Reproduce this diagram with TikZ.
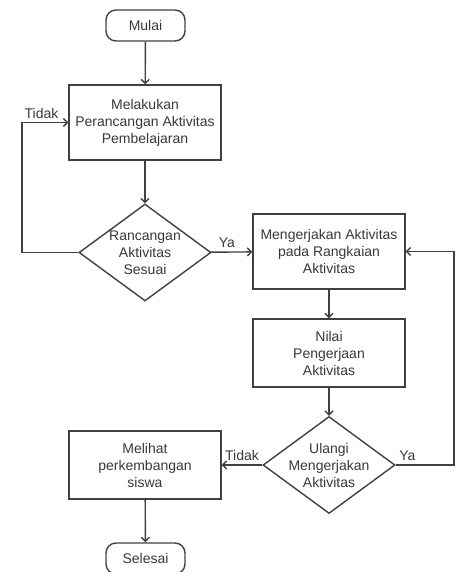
\documentclass[tikz,border=0pt]{standalone}
\usepackage{fontspec}
\setmainfont{Liberation Sans}
\usetikzlibrary{shapes.geometric,arrows.meta}
\definecolor{garis}{HTML}{404040}
\definecolor{teks}{HTML}{383838}

\begin{document}
\begin{tikzpicture}[x=1pt,y=-1pt]
\tikzstyle{every node}=[font=\fontsize{14}{17}\selectfont,text=teks]
\tikzstyle{terminal}=[draw=garis,line width=1.4pt,rounded corners=10pt,minimum width=79pt,minimum height=31pt,inner sep=2pt]
\tikzstyle{proses}=[draw=garis,line width=1.4pt,minimum width=152pt,minimum height=68pt,align=center,inner sep=2pt]
\tikzstyle{keputusan}=[draw=garis,line width=1.4pt,diamond,aspect=1.36,minimum width=132pt,minimum height=97pt,align=center,inner sep=-3pt]
\tikzstyle{panah}=[draw=garis,line width=1.4pt,-{Straight Barb[length=4pt,width=8pt]}]
\useasboundingbox (0,0) rectangle (455,572);

\node[terminal] (mulai) at (145.5,25.5) {Mulai};
\node[proses,minimum height=75pt] (rancang) at (145,122.5) {Melakukan\\Perancangan Aktivitas\\Pembelajaran};
\node[keputusan] (sesuai) at (145,252.5) {Rancangan\\Aktivitas\\Sesuai};
\node[proses,minimum height=75pt] (kerjakan) at (329,251.5) {Mengerjakan Aktivitas\\pada Rangkaian\\Aktivitas};
\node[proses] (nilai) at (329,353) {Nilai\\Pengerjaan\\Aktivitas};
\node[keputusan] (ulangi) at (329,465) {Ulangi\\Mengerjakan\\Aktivitas};
\node[proses] (lihat) at (145,465) {Melihat\\perkembangan\\siswa};
\node[terminal] (selesai) at (145.5,558.5) {Selesai};

\coordinate (kiri) at (22,252.5);
\coordinate (kanan) at (454,465);

\draw[panah] (mulai) -- (rancang);
\draw[panah] (rancang) -- (sesuai);
\draw[panah] (sesuai.west) -- (kiri) |- node[pos=0.5,above right,inner xsep=2pt]{Tidak} (rancang.west);
\draw[panah] (sesuai) -- node[above,pos=0.38]{Ya} (kerjakan);
\draw[panah] (kerjakan) -- (nilai);
\draw[panah] (nilai) -- (ulangi);
\draw[panah] (ulangi) -- node[above]{Tidak} (lihat);
\draw[panah] (ulangi.east) -- node[above,pos=0.2]{Ya} (kanan) |- (kerjakan.east);
\draw[panah] (lihat) -- (selesai);

\end{tikzpicture}
\end{document}
